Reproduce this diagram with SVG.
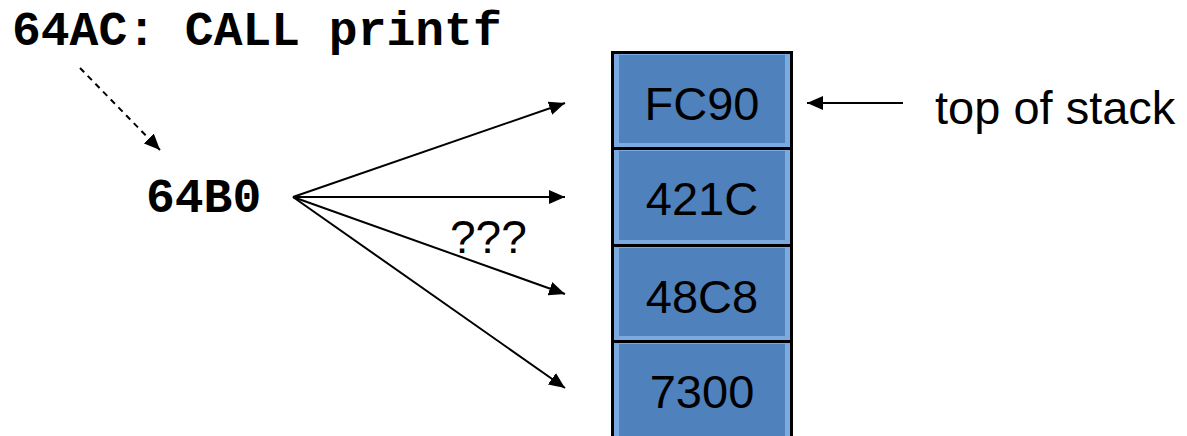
<svg xmlns="http://www.w3.org/2000/svg" width="1187" height="436" viewBox="0 0 1187 436">
<defs>
<style>
.mono{font-family:"Liberation Mono","Courier New",monospace;font-weight:bold;font-size:48px;fill:#000}
.sans{font-family:"Liberation Sans",Arial,sans-serif;font-size:47px;fill:#000}
.cell{fill:#4F81BD}
.bev{fill:#7BAAE0}
.line{stroke:#000;stroke-width:2;fill:none}
</style>
<marker id="ah" viewBox="0 0 16 14" refX="16" refY="7" markerWidth="16" markerHeight="14" markerUnits="userSpaceOnUse" orient="auto">
<path d="M0,0 L16,7 L0,14 Z" fill="#000"/>
</marker>
</defs>
<rect width="1187" height="436" fill="#fff"/>
<g id="code"><text class="mono" x="12" y="45">64AC: CALL printf</text></g>
<g id="ret"><text class="mono" x="146" y="212">64B0</text></g>
<g id="stack">
<rect x="611" y="51" width="182" height="390" fill="#000"/>
<g id="cell1"><rect class="bev" x="614" y="54" width="176" height="93"/><rect class="cell" x="619" y="55" width="166" height="88"/><text class="sans" x="702" y="120" text-anchor="middle">FC90</text></g>
<g id="cell2"><rect class="bev" x="614" y="150" width="176" height="94"/><rect class="cell" x="619" y="151" width="166" height="89"/><text class="sans" x="702" y="215" text-anchor="middle">421C</text></g>
<g id="cell3"><rect class="bev" x="614" y="247" width="176" height="93"/><rect class="cell" x="619" y="248" width="166" height="88"/><text class="sans" x="702" y="313" text-anchor="middle">48C8</text></g>
<g id="cell4"><rect class="bev" x="614" y="343" width="176" height="99"/><rect class="cell" x="619" y="344" width="166" height="94"/><text class="sans" x="702" y="408" text-anchor="middle">7300</text></g>
</g>
<g id="label"><text class="sans" x="935" y="124">top of stack</text></g>
<g id="connectors">
<line class="line" x1="80" y1="68" x2="160" y2="150" stroke-dasharray="6,5" marker-end="url(#ah)"/>
<line class="line" x1="293" y1="197" x2="565" y2="103" marker-end="url(#ah)"/>
<line class="line" x1="293" y1="197" x2="565" y2="197" marker-end="url(#ah)"/>
<line class="line" x1="293" y1="197" x2="565" y2="294" marker-end="url(#ah)"/>
<line class="line" x1="293" y1="197" x2="565" y2="388" marker-end="url(#ah)"/>
<line class="line" x1="903" y1="103" x2="807" y2="103" marker-end="url(#ah)"/>
<text class="sans" x="450" y="253" style="font-size:46px">???</text>
</g>
</svg>
